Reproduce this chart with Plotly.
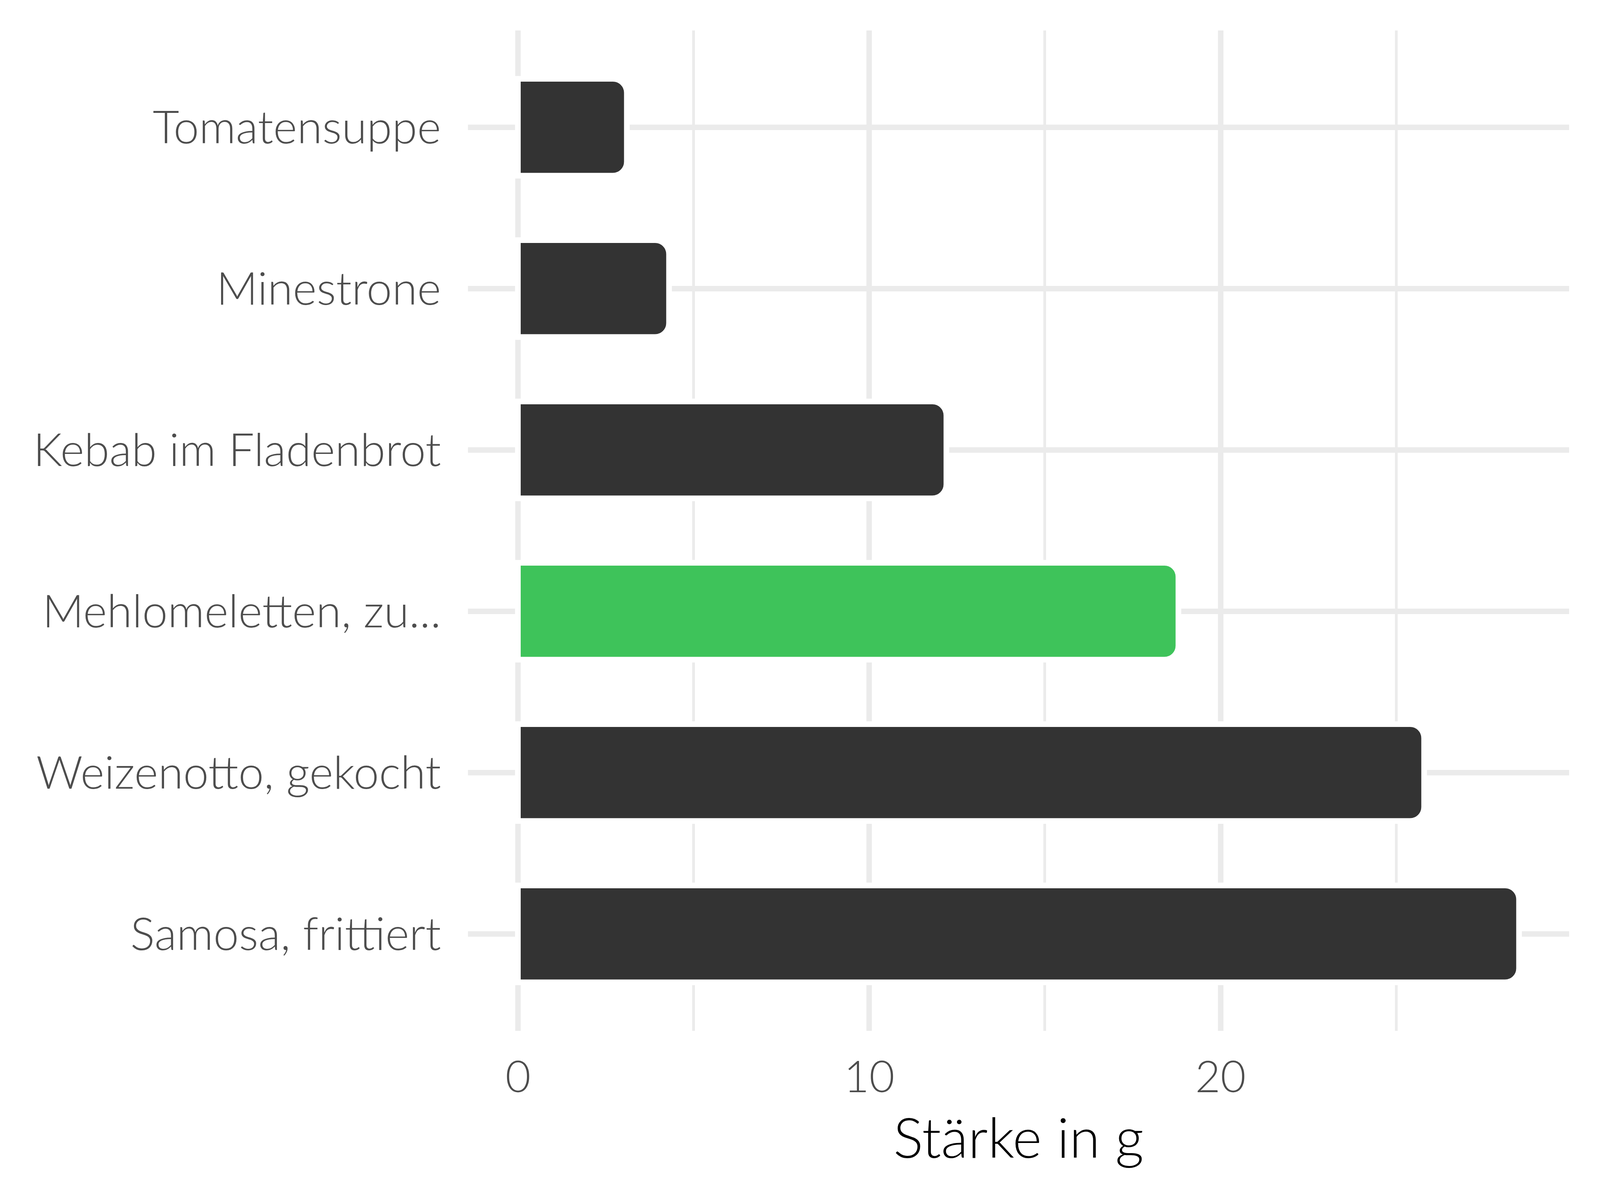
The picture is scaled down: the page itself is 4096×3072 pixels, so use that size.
import plotly.graph_objects as go

categories = ["Tomatensuppe", "Minestrone", "Kebab im Fladenbrot",
              "Mehlomeletten, zu...", "Weizenotto, gekocht", "Samosa, frittiert"]
values = [3.1, 4.3, 12.2, 18.8, 25.8, 28.5]
highlight = "Mehlomeletten, zu..."
x_ticks = [0, 10, 20]
x_title = "Stärke in g"

DARK = "#333333"
GREEN = "#3EC35A"
GRID = "#EBEBEB"
FONT = "Lato"

colors = [GREEN if c == highlight else DARK for c in categories]

fig = go.Figure()
fig.add_trace(go.Bar(
    x=values, y=categories, orientation="h",
    width=0.6,
    marker=dict(color=colors, line=dict(color="white", width=14.5), cornerradius=36),
    hoverinfo="x+y",
))

# page body has an 8px margin: figure is 4080x3056 placed at (8, 8)
fig.update_layout(
    width=4080, height=3056,
    margin=dict(l=1190, r=71, t=70, b=425, pad=0),
    paper_bgcolor="white", plot_bgcolor="white",
    showlegend=False,
    font=dict(family=FONT, color="#4D4D4D"),
    bargap=0,
)
fig.update_xaxes(
    range=[-1.425, 29.925],
    tickvals=x_ticks, ticktext=[str(t) for t in x_ticks],
    showgrid=True, gridcolor=GRID, gridwidth=13.6,
    minor=dict(dtick=5, tick0=5, showgrid=True, gridcolor=GRID, gridwidth=6.8),
    zeroline=False, showline=False, ticks="",
    tickfont=dict(family=FONT, size=112, color="#4D4D4D", weight=300),
    ticklabelstandoff=44,
    title=dict(text=x_title, font=dict(family=FONT, size=143, color="black", weight=300), standoff=44),
)
fig.update_yaxes(
    categoryorder="array", categoryarray=categories,
    range=[5.6, -0.6],
    showgrid=True, gridcolor=GRID, gridwidth=13.6,
    zeroline=False, showline=False, ticks="",
    tickfont=dict(family=FONT, size=117, color="#4D4D4D", weight=300),
    ticklabelstandoff=68,
)

fig.write_html("out.html")
